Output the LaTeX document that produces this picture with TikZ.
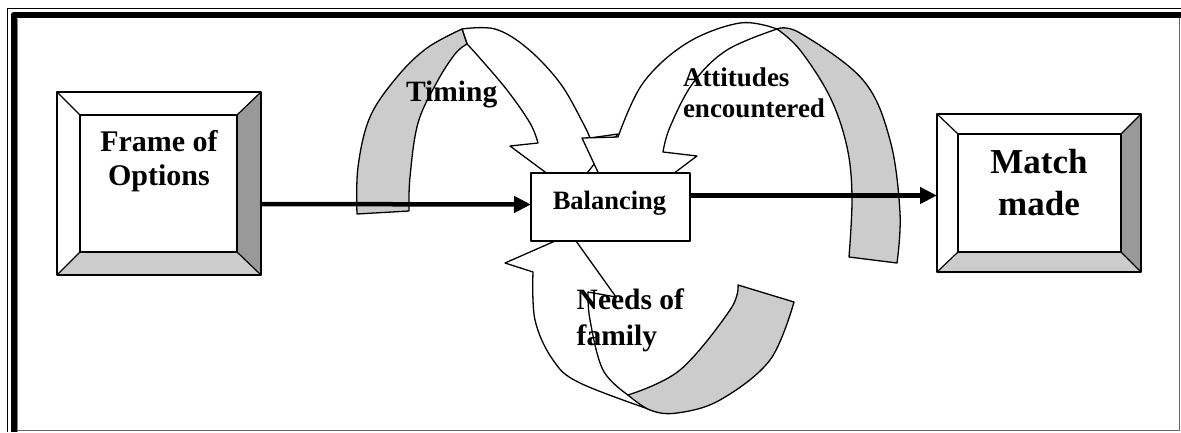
\documentclass[tikz,border=0pt]{standalone}
\usepackage{fontspec}
\setmainfont{Liberation Serif}
\usetikzlibrary{arrows.meta,calc}
\definecolor{backgray}{HTML}{CCCCCC}
\definecolor{darkbevel}{HTML}{999999}
\newcommand\bevelbox[5]{%
  \fill[white] (#1.north west) rectangle (#1.south east);
  \fill[darkbevel] (#1.north east) -- (#1.south east) -- ($(#1.south east)+(-#4,-#5)$) -- ($(#1.north east)+(-#4,#3)$) -- cycle;
  \fill[backgray] (#1.south west) -- (#1.south east) -- ($(#1.south east)+(-#4,-#5)$) -- ($(#1.south west)+(#2,-#5)$) -- cycle;
  \draw[line width=1.4pt] (#1.north west) rectangle (#1.south east);
  \draw[line width=1.4pt] ($(#1.north west)+(#2,#3)$) rectangle ($(#1.south east)+(-#4,-#5)$);
  \draw[line width=1.2pt] (#1.north west) -- ($(#1.north west)+(#2,#3)$)
     (#1.north east) -- ($(#1.north east)+(-#4,#3)$)
     (#1.south west) -- ($(#1.south west)+(#2,-#5)$)
     (#1.south east) -- ($(#1.south east)+(-#4,-#5)$);
}
\begin{document}
\begin{tikzpicture}[x=1pt,y=-1pt, line join=round,
  ribbon/.style={draw=black, line width=1.3pt},
  front/.style={ribbon, fill=white},
  back/.style={ribbon, fill=backgray},
  boxnode/.style={inner sep=0pt, outer sep=0pt},
  conn/.style={line width=4.5pt, -{Triangle[length=17pt,width=16pt]}},
  lbl/.style={inner sep=0pt, outer sep=0pt}]
\useasboundingbox (0,0) rectangle (1181,432);
% page frame
\draw[line width=1pt] (7,432) -- (7,8) -- (1181,8);
\draw[line width=6pt] (13.5,432) -- (13.5,15) -- (1181,15);
\draw[line width=0.8pt, gray] (17.5,432) -- (17.5,18.5);
\draw[line width=1pt, gray!80!black] (1179.5,18) -- (1179.5,430.5) -- (17,430.5);

% Timing arrow
\filldraw[front] plot[smooth, tension=0.6] coordinates {(590,138) (583,123) (560,83) (527,48) (495,29) (462,29)}
  -- (467,44) -- plot[smooth, tension=0.6] coordinates {(467,44) (478,56) (507,90) (530,123) (538,143)}
  -- (510,146) -- (572,192) -- (618,134) -- cycle;
\filldraw[back] plot[smooth, tension=0.6] coordinates {(357,214) (358,167) (370,117) (397,77) (427,48) (462,29)}
  -- (467,44) -- plot[smooth, tension=0.6] coordinates {(467,44) (455,54) (437,82) (418,123) (410,177) (409,211)} -- cycle;

% Attitudes arrow
\filldraw[front] plot[smooth, tension=0.6] coordinates {(618,137) (643,83) (687,43) (740,23) (777,29)}
  -- plot[smooth, tension=0.6] coordinates {(777,29) (727,50) (693,83) (670,127) (663,152)}
  -- (697,156) -- (618,215) -- (582,138) -- cycle;
\filldraw[back] plot[smooth, tension=0.6] coordinates {(777,29) (800,33) (863,80) (890,140) (900,213) (897,263)}
  -- (849,257) -- plot[smooth, tension=0.6] coordinates {(849,257) (852,197) (847,147) (830,97) (800,50) (777,29)} -- cycle;

% Needs arrow
\filldraw[front] plot[smooth, tension=0.6] coordinates {(533,272) (535,320) (553,360) (580,383) (657,412)}
  -- (628,395) -- plot[smooth, tension=0.6] coordinates {(628,395) (603,370) (590,320) (588,292)}
  -- (616,297) -- (571,234) -- (505,263) -- cycle;
\filldraw[back] plot[smooth, tension=0.6] coordinates {(628,395) (680,370) (730,310) (738,285)}
  -- (794,302) -- plot[smooth, tension=0.6] coordinates {(794,302) (770,360) (720,400) (677,413) (650,410) (628,395)} -- cycle;

% boxes
\node[boxnode, minimum width=204pt, minimum height=183pt] (frame) at (159,183.5) {};
\bevelbox{frame}{23}{23}{24}{23}
\node[boxnode, minimum width=204pt, minimum height=158pt] (match) at (1039,193) {};
\bevelbox{match}{21}{20}{20}{20}
\node[boxnode, draw, line width=1.4pt, fill=white, minimum width=159pt, minimum height=68pt] (bal) at (610.5,207) {};

% connectors
\draw[conn] ($(frame.east)+(0,20.5)$) -- ($(bal.west)+(0,-2.5)$);
\draw[conn] ($(bal.east)+(0,-11.5)$) -- ($(match.west)+(0,2.5)$);

% labels
\node[lbl, align=center, anchor=north, font=\fontsize{30}{34}\selectfont\bfseries] (tframe) at (159,130) {Frame of\\Options};
\node[lbl, align=center, anchor=north, font=\fontsize{35}{42}\selectfont\bfseries] (tmatch) at (1039,149.5) {Match\\made};
\node[lbl, anchor=base, font=\fontsize{26.5}{30}\selectfont\bfseries] (tbal) at (609.5,209) {Balancing};
\node[lbl, anchor=base, font=\fontsize{29.5}{34}\selectfont\bfseries] (ttiming) at (451.7,101.7) {Timing};
\node[lbl, align=left, anchor=north west, font=\fontsize{27}{31}\selectfont\bfseries] (tatt) at (683,67.7) {Attitudes\\encountered};
\node[lbl, align=left, anchor=north west, font=\fontsize{29.5}{36}\selectfont\bfseries] (tneeds) at (576.7,289) {Needs of\\family};
\end{tikzpicture}
\end{document}
